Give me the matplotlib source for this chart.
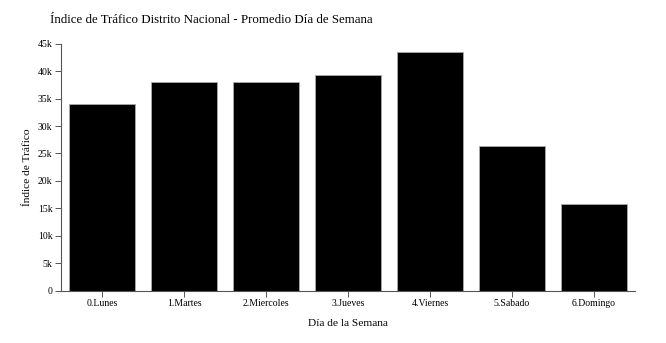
import matplotlib
matplotlib.use("Agg")
import matplotlib.pyplot as plt
from matplotlib.ticker import FuncFormatter

dias = ["0.Lunes", "1.Martes", "2.Miercoles", "3.Jueves", "4.Viernes", "5.Sabado", "6.Domingo"]
indice = [33960, 38000, 37950, 39240, 43430, 26400, 15850]
y_ticks = [0, 5000, 10000, 15000, 20000, 25000, 30000, 35000, 40000, 45000]

plt.rcParams["font.family"] = ["Liberation Serif", "DejaVu Serif"]

W, H = 666, 343
fig = plt.figure(figsize=(W / 100, H / 100), dpi=100)
ax = fig.add_axes([61 / W, (H - 290.7) / H, (635 - 61) / W, (290.7 - 43.7) / H])

x = list(range(len(dias)))
ax.bar(x, indice, width=0.8, color="black", edgecolor="#aaaaaa", linewidth=0.6)

ax.set_xlim(-0.5, len(dias) - 0.5)
ax.set_ylim(0, 45000)
ax.set_xticks(x)
ax.set_xticklabels(dias)
ax.set_yticks(y_ticks)
ax.yaxis.set_major_formatter(FuncFormatter(lambda v, p: "0" if v == 0 else f"{int(v/1000)}k"))

for s in ["top", "right"]:
    ax.spines[s].set_visible(False)
for s in ["left", "bottom"]:
    ax.spines[s].set_color("#555555")
    ax.spines[s].set_linewidth(0.8)

ax.tick_params(axis="both", labelsize=7, length=4, width=0.7, color="#555555", pad=2)

ax.set_xlabel("Día de la Semana", fontsize=8.2, labelpad=8)
ax.set_ylabel("Índice de Tráfico", fontsize=8.2, labelpad=4)
fig.text(50 / W, 1 - 20 / H, "Índice de Tráfico Distrito Nacional - Promedio Día de Semana",
         fontsize=9.3, ha="left", va="center")

fig.savefig("out.png", dpi=100, facecolor="white")
